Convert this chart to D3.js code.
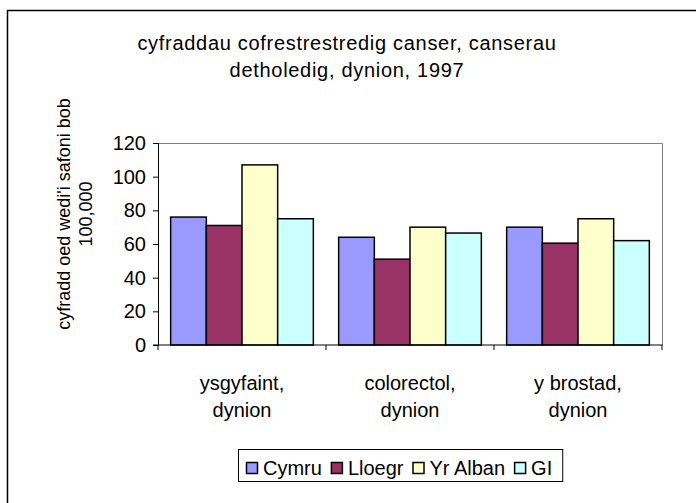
<!DOCTYPE html>
<html>
<head>
<meta charset="utf-8">
<script src="https://cdn.jsdelivr.net/npm/d3@7"></script>
<style>
  body { margin: 0; background: #fff; }
  text { font-family: "Liberation Sans", Arial, sans-serif; fill: #000; }
</style>
</head>
<body>
<div id="chart"></div>
<script>
// data
var categories = [["ysgyfaint,", "dynion"], ["colorectol,", "dynion"], ["y brostad,", "dynion"]];
var seriesNames = ["Cymru", "Lloegr", "Yr Alban", "GI"];
var seriesColors = ["#9999ff", "#993366", "#ffffcc", "#ccffff"];
var cymru = [76, 64, 70];
var lloegr = [71, 51, 60.5];
var yrAlban = [107, 70, 75];
var gi = [75, 66.5, 62];
var yTicks = [0, 20, 40, 60, 80, 100, 120];

var seriesValues = [cymru, lloegr, yrAlban, gi];

var W = 696, H = 503;
var plot = {left: 158, top: 143, right: 662, bottom: 345};
var fs = "20px";

var svg = d3.select("#chart").append("svg")
  .attr("width", W).attr("height", H);

// outer chart border (only left/top visible in the crop)
svg.append("path")
  .attr("d", "M7.5," + H + "V10.5H" + W)
  .attr("fill", "none").attr("stroke", "#000").attr("stroke-width", 1.5);

// title
var title = svg.append("text")
  .attr("text-anchor", "middle")
  .style("font-size", fs).style("letter-spacing", "0.7px");
title.append("tspan").attr("x", 347).attr("y", 50).text("cyfraddau cofrestrestredig canser, canserau");
title.append("tspan").attr("x", 347).attr("y", 77).text("detholedig, dynion, 1997");

var x0 = d3.scaleBand()
  .domain(d3.range(categories.length))
  .range([plot.left, plot.right])
  .paddingInner(0).paddingOuter(0);

var x1 = d3.scaleBand()
  .domain(d3.range(seriesNames.length))
  .range([0, x0.bandwidth()])
  .paddingOuter(0.355);

var y = d3.scaleLinear()
  .domain([0, 120])
  .range([plot.bottom, plot.top]);

// plot frame (top/right grey)
svg.append("path")
  .attr("d", "M" + plot.left + "," + (plot.top + 0.5) + "H" + (plot.right + 0.5) + "V" + plot.bottom)
  .attr("fill", "none").attr("stroke", "#808080").attr("stroke-width", 1);

// bars
categories.forEach(function(c, ci) {
  var g = svg.append("g").attr("transform", "translate(" + x0(ci) + ",0)");
  g.selectAll("rect")
    .data(seriesValues.map(function(s) { return s[ci]; }))
    .enter()
    .append("rect")
      .attr("x", function(d, i) { return x1(i); })
      .attr("y", function(d) { return y(d); })
      .attr("width", x1.bandwidth())
      .attr("height", function(d) { return y(0) - y(d); })
      .attr("fill", function(d, i) { return seriesColors[i]; })
      .attr("stroke", "#000")
      .attr("stroke-width", 1.5);
});

// Y axis
var yAxis = svg.append("g")
  .attr("transform", "translate(" + plot.left + ",0)")
  .call(d3.axisLeft(y).tickValues(yTicks).tickSize(5).tickPadding(7));
yAxis.select(".domain").attr("stroke", "#000");
yAxis.selectAll("text").style("font-size", fs).attr("fill", "#000");

// X axis with ticks at band boundaries
var xAxisG = svg.append("g").attr("transform", "translate(0," + plot.bottom + ")");
xAxisG.append("line")
  .attr("x1", plot.left - 5).attr("x2", plot.right + 0.5)
  .attr("stroke", "#000");
var bounds = d3.range(categories.length + 1).map(function(i) {
  return i < categories.length ? x0(i) : plot.right;
});
xAxisG.selectAll(".tk").data(bounds).enter().append("line")
  .attr("x1", function(d) { return d; }).attr("x2", function(d) { return d; })
  .attr("y1", 0).attr("y2", 5).attr("stroke", "#000");
categories.forEach(function(c, ci) {
  var t = xAxisG.append("text")
    .attr("text-anchor", "middle").style("font-size", fs);
  c.forEach(function(line, li) {
    t.append("tspan").attr("x", x0(ci) + x0.bandwidth() / 2)
      .attr("y", 45 + li * 27).text(line);
  });
});

// Y axis title
var yt = svg.append("text")
  .attr("transform", "translate(0,214) rotate(-90)")
  .attr("text-anchor", "middle").style("font-size", "18px");
yt.append("tspan").attr("x", 0).attr("y", 70).text("cyfradd oed wedi'i safoni bob");
yt.append("tspan").attr("x", 0).attr("y", 92).text("100,000");

// legend
var legend = svg.append("g").attr("transform", "translate(238,449)");
var box = legend.append("rect")
  .attr("x", 0.5).attr("y", 0.5).attr("height", 32)
  .attr("fill", "#fff").attr("stroke", "#000");
var cursor = 8;
seriesNames.forEach(function(name, i) {
  var it = legend.append("g").attr("transform", "translate(" + cursor + ",13)");
  it.append("rect").attr("x", 0.5).attr("y", 0.5).attr("width", 11).attr("height", 11)
    .attr("fill", seriesColors[i]).attr("stroke", "#000").attr("stroke-width", 1.5);
  var tx = it.append("text").attr("x", 17).attr("y", 13)
    .style("font-size", fs).text(name);
  cursor += 17 + tx.node().getComputedTextLength() + (i < seriesNames.length - 1 ? 9 : 10);
});
box.attr("width", cursor);
</script>
</body>
</html>
